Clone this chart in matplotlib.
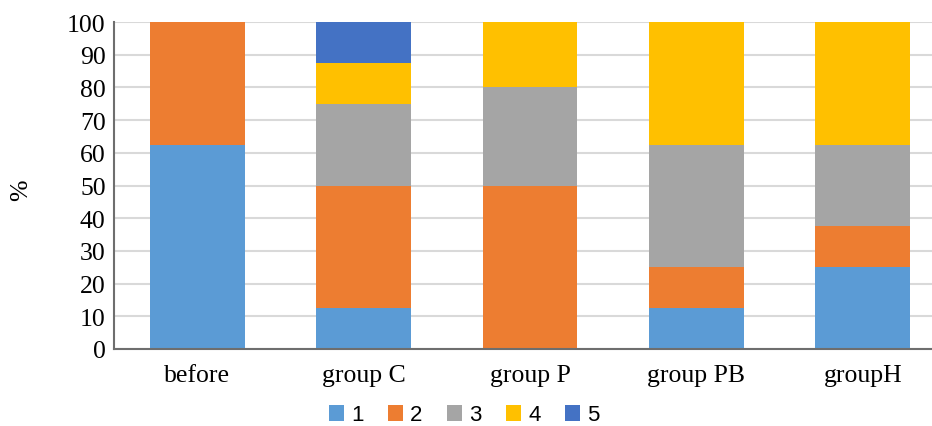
import matplotlib
matplotlib.use("Agg")
import matplotlib.pyplot as plt
import numpy as np

categories = ["before", "group C", "group P", "group PB", "groupH"]
series_names = ["1", "2", "3", "4", "5"]
s1 = [62.5, 12.5, 0, 12.5, 25]
s2 = [37.5, 37.5, 50, 12.5, 12.5]
s3 = [0, 25, 30, 37.5, 25]
s4 = [0, 12.5, 20, 37.5, 37.5]
s5 = [0, 12.5, 0, 0, 0]
yticks = list(range(0, 101, 10))

colors = ["#5B9BD5", "#ED7D31", "#A5A5A5", "#FFC000", "#4472C4"]

fig = plt.figure(figsize=(9.32, 4.27), dpi=100)
ax = fig.add_axes([114 / 932, 77 / 427, 832 / 932, 327 / 427])

x = np.arange(len(categories))
bottom = np.zeros(len(categories))
handles = []
for name, vals, c in zip(series_names, [s1, s2, s3, s4, s5], colors):
    vals = np.array(vals, dtype=float)
    h = ax.bar(x, vals, width=0.57, bottom=bottom, color=c, label=name, zorder=3)
    handles.append(h)
    bottom += vals

ax.set_xlim(-0.5, len(categories) - 0.5)
ax.set_ylim(0, 100)
ax.set_yticks(yticks)
ax.set_xticks(x)
ax.set_xticklabels(categories, family="Liberation Serif", fontsize=18.5)
ax.set_yticklabels([str(t) for t in yticks], family="Liberation Serif", fontsize=18.5)
ax.tick_params(length=0)
ax.tick_params(axis="y", pad=6)
ax.tick_params(axis="x", pad=11)

ax.grid(axis="y", color="#D9D9D9", linewidth=1.5, zorder=0)
for s in ["top", "right"]:
    ax.spines[s].set_visible(False)
for s in ["left", "bottom"]:
    ax.spines[s].set_color("#6E6E6E")
    ax.spines[s].set_linewidth(1.5)
    ax.spines[s].set_zorder(4)

fig.text(21 / 932, 1 - 190 / 427, "%", rotation=90, family="Liberation Serif",
         fontsize=18.5, ha="center", va="center")

fig.legend(handles=handles, labels=series_names, loc="center",
           bbox_to_anchor=(464 / 932, 1 - 416 / 427), ncol=5, frameon=False,
           prop={"family": "Liberation Sans", "size": 16},
           handlelength=0.7, handleheight=0.7, handletextpad=0.3,
           columnspacing=1.1)

fig.savefig("out.png", dpi=100)
